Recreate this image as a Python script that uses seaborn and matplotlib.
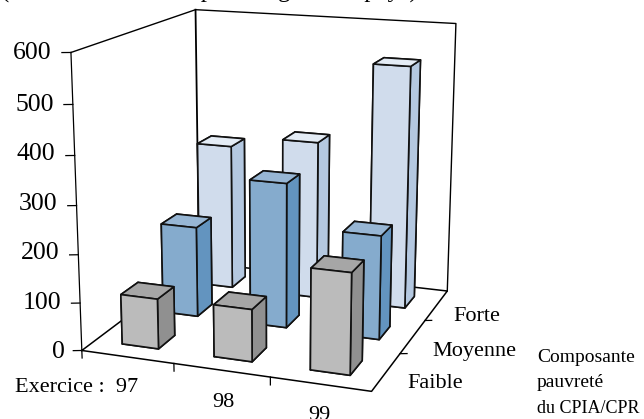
import matplotlib
matplotlib.use('Agg')
import matplotlib.pyplot as plt
import seaborn as sns

sns.set_style('white')
plt.rcParams['font.family'] = ['Liberation Serif', 'DejaVu Serif']

# valeurs
exercices = ['97', '98', '99']
composantes = ['Faible', 'Moyenne', 'Forte']
faible = [105, 108, 206]
moyenne = [196, 310, 220]
forte = [325, 350, 528]
graduations = [0, 100, 200, 300, 400, 500, 600]

# face avant, cote, dessus
couleurs = {
    'Faible': ('#BBBBBB', '#909090', '#A6A6A6'),
    'Moyenne': ('#85ABCD', '#6394BF', '#97B6D4'),
    'Forte': ('#D0DCEC', '#B4C8E0', '#E4ECF5'),
}

W, H = 644, 419
ECHELLE = 2650.14
OFF_X, OFF_Y = 274.88, -181.74

fig = plt.figure(figsize=(W / 100, H / 100), dpi=100)
ax = fig.add_subplot(projection='3d', computed_zorder=False)
ax.set_proj_type('persp', focal_length=0.5484)
ax.view_init(elev=14.92, azim=-70.01)
ax.set_box_aspect((1, 1, 1))
ax.set_xlim(0, 3)
ax.set_ylim(0, 3)
ax.set_zlim(0, 600)
ax.set_axis_off()

# place les axes pour retomber sur les pixels de l'image
cote = ECHELLE * 0.185
ax.set_position([(OFF_X - ECHELLE * 0.095) / W, (H + OFF_Y - ECHELLE * 0.095) / H, cote / W, cote / H])


def trait(x, y, z, lw=1.0):
    ax.plot(x, y, z, color='black', lw=lw, zorder=1, solid_capstyle='projecting')


# cadre : sol, parois
trait([0, 3, 3, 0, 0], [0, 0, 3, 3, 0], [0, 0, 0, 0, 0], lw=1.1)
trait([0, 0], [0, 0], [0, 600], lw=0.9)
trait([0, 0, 3, 3], [0, 3, 3, 3], [600, 600, 600, 0], lw=1.0)
trait([0, 0], [3, 3], [0, 600], lw=1.3)

# graduations
for g in graduations:
    trait([0, -0.078], [0, -0.033], [g, g], lw=0.9)
trait([0, 0], [0, 0], [0, -16], lw=0.9)
for i in range(1, len(exercices)):
    trait([i, i], [0, 0], [0, -16], lw=0.9)
for j in range(1, len(composantes)):
    trait([3, 3.065], [j, j + 0.027], [0, 0], lw=0.9)

# barres, du fond vers l'avant
for j, nom, serie in [(2, 'Forte', forte), (1, 'Moyenne', moyenne), (0, 'Faible', faible)]:
    avant, cote_bar, dessus = couleurs[nom]
    for i, valeur in enumerate(serie):
        ax.bar3d(i + 0.3, j + 0.3, 0, 0.4, 0.4, valeur,
                 color=[avant, dessus, avant, avant, cote_bar, cote_bar],
                 shade=False, edgecolor='#111111', linewidth=1.2, zorder=10 + (2 - j) * 10 + i)


def texte(x, y, s, **kw):
    fig.text(x / W, 1 - y / H, s, va='baseline', color='black', **kw)


# titre coupe en haut de l'image
texte(1, -2, '(Millions de dollars par catégorie de pays)', fontsize=17.7, ha='left')

grad_x = [65, 61, 59, 57, 55, 54, 52]
grad_y = [358, 309, 259, 210, 160, 111, 59]
for g, x, y in zip(graduations, grad_x, grad_y):
    texte(x, y, str(g), fontsize=18.5, ha='right')

texte(138, 392, 'Exercice :  ' + exercices[0], fontsize=16, ha='right')
texte(223, 407, exercices[1], fontsize=16, ha='center')
texte(319, 420, exercices[2], fontsize=16, ha='center')

texte(407, 388, composantes[0], fontsize=16, ha='left')
texte(432, 356, composantes[1], fontsize=16, ha='left')
texte(453, 321, composantes[2], fontsize=16, ha='left')

texte(537, 362, 'Composante', fontsize=14, ha='left')
texte(537, 387, 'pauvreté', fontsize=14, ha='left')
texte(537, 413, 'du CPIA/CPR', fontsize=13, ha='left')

fig.savefig('out.png', dpi=100)
